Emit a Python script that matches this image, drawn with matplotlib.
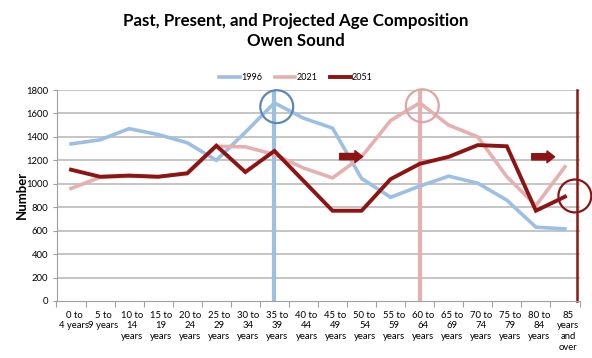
import matplotlib
matplotlib.use("Agg")
import matplotlib.pyplot as plt
import matplotlib.transforms as mtransforms
from matplotlib.patches import FancyArrowPatch

categories = ["0 to\n4 years", "5 to\n9 years", "10 to\n14\nyears", "15 to\n19\nyears",
              "20 to\n24\nyears", "25 to\n29\nyears", "30 to\n34\nyears", "35 to\n39\nyears",
              "40 to\n44\nyears", "45 to\n49\nyears", "50 to\n54\nyears", "55 to\n59\nyears",
              "60 to\n64\nyears", "65 to\n69\nyears", "70 to\n74\nyears", "75 to\n79\nyears",
              "80 to\n84\nyears", "85\nyears\nand\nover"]
series_names = ["1996", "2021", "2051"]
v1996 = [1340, 1375, 1470, 1420, 1350, 1200, 1440, 1690, 1560, 1475, 1045, 885,
         980, 1065, 1005, 860, 630, 615]
v2021 = [960, 1055, 1065, 1060, 1085, 1320, 1315, 1250, 1135, 1050, 1230, 1540,
         1690, 1500, 1400, 1060, 815, 1145]
v2051 = [1120, 1060, 1070, 1060, 1090, 1325, 1100, 1280, 1025, 770, 770, 1040,
         1170, 1230, 1330, 1320, 770, 890]
yticks = [0, 200, 400, 600, 800, 1000, 1200, 1400, 1600, 1800]

# annotation anchors (category index, value)
circles = [(7.08, 1658), (12.09, 1666), (17.34, 896)]
vlines = [7.0, 12.0, 17.42]
arrows = [((9.15, 1232), (10.13, 1232)), ((15.76, 1230), (16.74, 1230))]

c_blue = "#9DBFE4"
c_pink = "#E5B0AF"
c_red = "#8E1414"
circ_colors = ["#5B88B8", "#DDA5A4", "#8E1414"]

plt.rcParams["font.family"] = ["Lato", "DejaVu Sans"]

fig = plt.figure(figsize=(5.92, 3.58), dpi=100)
ax = fig.add_axes([56.5 / 592, 1 - 301 / 358, (579.5 - 56.5) / 592, (301 - 90) / 358])

x = list(range(len(categories)))
ax.set_xlim(-0.5, len(categories) - 0.5)
ax.set_ylim(0, 1800)

for yv in yticks[1:]:
    ax.axhline(yv, color="#C0C0C0", lw=1.3, zorder=0)

# vertical marker lines
ax.plot([vlines[0], vlines[0]], [0, 1800], color=c_blue, lw=3.0, zorder=1)
ax.plot([vlines[1], vlines[1]], [0, 1800], color=c_pink, lw=3.0, zorder=1)
ax.plot([vlines[2], vlines[2]], [0, 1800], color=c_red, lw=1.8, zorder=1, clip_on=False)

l1, = ax.plot(x, v1996, color=c_blue, lw=2.6, label=series_names[0], zorder=2, solid_joinstyle="miter")
l2, = ax.plot(x, v2021, color=c_pink, lw=2.6, label=series_names[1], zorder=3, solid_joinstyle="miter")
l3, = ax.plot(x, v2051, color=c_red, lw=2.8, label=series_names[2], zorder=4, solid_joinstyle="miter")

for (cx, cy), cc in zip(circles, circ_colors):
    ax.scatter([cx], [cy], s=560, facecolors="none", edgecolors=cc, linewidths=1.6,
               zorder=5, clip_on=False)

for (p0, p1) in arrows:
    arr = FancyArrowPatch(p0, p1, arrowstyle="simple,head_length=0.55,head_width=0.85,tail_width=0.45",
                          mutation_scale=10, color=c_red, zorder=6)
    ax.add_patch(arr)

ax.set_yticks(yticks)
ax.set_yticklabels([str(v) for v in yticks], fontsize=6.8)
ax.set_xticks(x)
ax.set_xticklabels(categories, fontsize=6.8, linespacing=1.25)
ax.set_xticks([i + 0.5 for i in range(-1, len(categories))], minor=True)
ax.tick_params(axis="x", which="major", length=0, pad=7)
ax.tick_params(axis="x", which="minor", length=4, color="#A0A0A0", width=0.8)
ax.tick_params(axis="y", length=3, color="#A0A0A0", width=0.8, pad=3)

offset = mtransforms.ScaledTranslation(3 / 100, 0, fig.dpi_scale_trans)
for lab in ax.get_xticklabels():
    lab.set_transform(lab.get_transform() + offset)

for s in ["top", "right"]:
    ax.spines[s].set_visible(False)
ax.spines["left"].set_color("#A0A0A0")
ax.spines["bottom"].set_color("#A0A0A0")
ax.spines["left"].set_linewidth(0.8)
ax.spines["bottom"].set_linewidth(0.8)

fig.text(22 / 592, 1 - 195 / 358, "Number", rotation=90, fontsize=9.5, fontweight="bold",
         ha="center", va="center")

fig.text(0.5, 1 - 21 / 358, "Past, Present, and Projected Age Composition", fontsize=12.2,
         fontweight="bold", ha="center", va="center")
fig.text(0.5, 1 - 41 / 358, "Owen Sound", fontsize=12.2, fontweight="bold",
         ha="center", va="center")

fig.legend(handles=[l1, l2, l3], loc="center", bbox_to_anchor=(0.5, 1 - 78 / 358), ncol=3,
           frameon=False, fontsize=6.5, handlelength=2.3, handletextpad=0.1,
           columnspacing=1.4)

fig.savefig("out.png", dpi=100)
